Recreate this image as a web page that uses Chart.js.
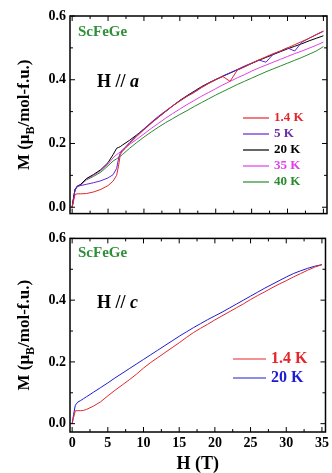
<!DOCTYPE html>
<html>
<head>
<meta charset="utf-8">
<script src="https://cdn.jsdelivr.net/npm/chart.js@4/dist/chart.umd.min.js"></script>
<style>
  body { margin: 0; background: #fff; }
  #wrap { position: relative; width: 332px; height: 473px; }
  canvas { position: absolute; left: 0; }
</style>
</head>
<body>
<div id="wrap">
  <canvas id="chart-a" width="332" height="226" style="top:0"></canvas>
  <canvas id="chart-c" width="332" height="247" style="top:226px"></canvas>
</div>
<script>
// field values (T), H // a
const fieldA = [0, 0.2, 0.4, 0.7, 1.2, 2, 3, 4, 5, 5.7, 6.2, 6.5, 6.7, 7,
  8, 9, 10, 11, 12, 13, 14, 15, 16, 17, 18, 19, 20, 21, 22, 23, 24, 25, 26, 27, 28, 29, 30, 31, 32, 33, 34, 35];
const mA_1p4K = [0, 0.02, 0.04, 0.042, 0.042, 0.043, 0.048, 0.056, 0.068, 0.082, 0.1, 0.135, 0.165, 0.175,
  0.2, 0.222, 0.243, 0.263, 0.282, 0.3, 0.318, 0.333, 0.348, 0.36, 0.375, 0.388, 0.4, 0.41, 0.395, 0.43, 0.44, 0.452, 0.462, 0.472, 0.482, 0.49, 0.5, 0.51, 0.52, 0.53, 0.542, 0.553];
const mA_5K = [0, 0.025, 0.055, 0.066, 0.068, 0.072, 0.077, 0.083, 0.092, 0.102, 0.122, 0.157, 0.17, 0.178,
  0.203, 0.225, 0.246, 0.266, 0.285, 0.302, 0.318, 0.334, 0.348, 0.362, 0.376, 0.389, 0.4, 0.412, 0.422, 0.432, 0.443, 0.452, 0.462, 0.455, 0.48, 0.49, 0.5, 0.49, 0.518, 0.53, 0.541, 0.552];
const mA_20K = [0, 0.03, 0.055, 0.066, 0.072, 0.09, 0.103, 0.118, 0.14, 0.165, 0.185, 0.188, 0.19, 0.195,
  0.21, 0.227, 0.245, 0.264, 0.282, 0.3, 0.318, 0.335, 0.35, 0.364, 0.378, 0.39, 0.401, 0.411, 0.421, 0.431, 0.441, 0.451, 0.461, 0.47, 0.479, 0.488, 0.497, 0.505, 0.513, 0.522, 0.53, 0.538];
const mA_35K = [0, 0.03, 0.055, 0.064, 0.07, 0.088, 0.1, 0.115, 0.135, 0.155, 0.165, 0.17, 0.174, 0.18,
  0.197, 0.213, 0.23, 0.247, 0.263, 0.279, 0.294, 0.308, 0.322, 0.335, 0.348, 0.36, 0.372, 0.384, 0.395, 0.406, 0.416, 0.427, 0.437, 0.446, 0.455, 0.464, 0.473, 0.482, 0.49, 0.499, 0.508, 0.518];
const mA_40K = [0, 0.03, 0.055, 0.064, 0.07, 0.086, 0.097, 0.11, 0.13, 0.145, 0.152, 0.157, 0.16, 0.165,
  0.185, 0.203, 0.22, 0.236, 0.251, 0.265, 0.278, 0.291, 0.303, 0.316, 0.328, 0.34, 0.352, 0.363, 0.374, 0.385, 0.395, 0.405, 0.415, 0.425, 0.434, 0.443, 0.452, 0.461, 0.47, 0.48, 0.49, 0.504];

// field values (T), H // c
const fieldC = [0, 0.2, 0.45, 0.8, 1.2, 1.6, 2, 3,
  4, 5, 6, 7, 8, 9, 10, 11, 12, 13, 14, 15, 16, 17, 18, 19, 20, 21, 22, 23, 24, 25, 26, 27, 28, 29, 30, 31, 32, 33, 34, 35];
const mC_1p4K = [0, 0.02, 0.042, 0.042, 0.042, 0.043, 0.046, 0.057,
  0.071, 0.09, 0.108, 0.125, 0.142, 0.16, 0.18, 0.198, 0.214, 0.23, 0.246, 0.262, 0.279, 0.295, 0.309, 0.322, 0.336, 0.349, 0.362, 0.375, 0.388, 0.402, 0.415, 0.427, 0.44, 0.452, 0.463, 0.475, 0.486, 0.497, 0.507, 0.515];
const mC_20K = [0, 0.03, 0.06, 0.07, 0.075, 0.081, 0.087, 0.102,
  0.117, 0.132, 0.148, 0.163, 0.178, 0.193, 0.208, 0.223, 0.238, 0.253, 0.268, 0.283, 0.297, 0.311, 0.324, 0.337, 0.349, 0.361, 0.374, 0.387, 0.4, 0.413, 0.426, 0.439, 0.451, 0.463, 0.475, 0.486, 0.495, 0.503, 0.51, 0.515];

const xTicks = [0, 5, 10, 15, 20, 25, 30, 35];
const xMinor = [2.5, 7.5, 12.5, 17.5, 22.5, 27.5, 32.5];
const yTicks = [0, 0.2, 0.4, 0.6];
const yMinor = [0.1, 0.3, 0.5];

const serif = '"Liberation Serif", "Times New Roman", serif';

function pts(xs, ys) {
  return xs.map((x, i) => ({ x: x, y: ys[i] }));
}

function line(label, xs, ys, color) {
  return { label: label, data: pts(xs, ys), borderColor: color, borderWidth: 1,
           pointRadius: 0, tension: 0, fill: false };
}

// frame, inward ticks, labels and legend drawn on the chart
function panelPlugin(cfg) {
  return {
    id: 'panel',
    afterDraw(chart) {
      const ctx = chart.ctx, a = chart.chartArea;
      const xs = chart.scales.x, ys = chart.scales.y;
      ctx.save();
      ctx.strokeStyle = '#000';
      ctx.lineWidth = 1;
      ctx.beginPath();
      xTicks.forEach(v => {
        const p = xs.getPixelForValue(v);
        ctx.moveTo(p, a.bottom); ctx.lineTo(p, a.bottom - 5);
        ctx.moveTo(p, a.top); ctx.lineTo(p, a.top + 5);
      });
      xMinor.forEach(v => {
        const p = xs.getPixelForValue(v);
        ctx.moveTo(p, a.bottom); ctx.lineTo(p, a.bottom - 3);
        ctx.moveTo(p, a.top); ctx.lineTo(p, a.top + 3);
      });
      yTicks.forEach(v => {
        const p = ys.getPixelForValue(v);
        ctx.moveTo(a.left, p); ctx.lineTo(a.left + 5, p);
        ctx.moveTo(a.right, p); ctx.lineTo(a.right - 5, p);
      });
      yMinor.forEach(v => {
        const p = ys.getPixelForValue(v);
        ctx.moveTo(a.left, p); ctx.lineTo(a.left + 3, p);
        ctx.moveTo(a.right, p); ctx.lineTo(a.right - 3, p);
      });
      ctx.stroke();
      ctx.lineWidth = 1.5;
      ctx.strokeRect(a.left, a.top, a.right - a.left, a.bottom - a.top);

      // sample name
      ctx.textBaseline = 'middle';
      ctx.textAlign = 'left';
      ctx.fillStyle = '#2f8f3a';
      ctx.font = 'bold 15px ' + serif;
      ctx.fillText('ScFeGe', a.left + 8, a.top + cfg.nameDy);

      // H // a
      ctx.fillStyle = '#000';
      ctx.font = 'bold 18px ' + serif;
      let x = a.left + 27, y = a.top + cfg.dirDy;
      ctx.fillText('H // ', x, y);
      x += ctx.measureText('H // ').width;
      ctx.font = 'italic bold 18px ' + serif;
      ctx.fillText(cfg.dir, x, y);

      // legend
      ctx.font = 'bold ' + cfg.legFont + 'px ' + serif;
      chart.data.datasets.forEach((ds, i) => {
        const ly = cfg.legY + i * cfg.legStep;
        ctx.strokeStyle = ds.borderColor;
        ctx.lineWidth = 1.2;
        ctx.beginPath();
        ctx.moveTo(cfg.legX0, ly); ctx.lineTo(cfg.legX1, ly);
        ctx.stroke();
        ctx.fillStyle = cfg.labelColors[i];
        ctx.fillText(ds.label, cfg.legX1 + 5, ly);
      });

      // y title with subscript
      ctx.fillStyle = '#000';
      ctx.translate(25, (a.top + a.bottom) / 2);
      ctx.rotate(-Math.PI / 2);
      const big = 'bold 17px ' + serif, small = 'bold 12px ' + serif;
      const parts = [['M (\u03bc', big, 0], ['B', small, 6], ['/mol-f.u.)', big, 0]];
      let w = 0;
      parts.forEach(p => { ctx.font = p[1]; w += ctx.measureText(p[0]).width; });
      let px = -w / 2;
      parts.forEach(p => {
        ctx.font = p[1];
        ctx.fillText(p[0], px, p[2]);
        px += ctx.measureText(p[0]).width;
      });
      ctx.restore();
    }
  };
}

function yScale(min) {
  return {
    type: 'linear', min: min, max: 0.6,
    afterBuildTicks: s => { s.ticks = yTicks.map(v => ({ value: v })); },
    afterFit: s => { s.width = 70; },
    grid: { display: false, drawTicks: false },
    border: { display: false },
    ticks: { padding: 4, color: '#000', font: { family: serif, size: 14, weight: 'bold' },
             callback: v => v.toFixed(1) }
  };
}

new Chart(document.getElementById('chart-a'), {
  type: 'line',
  data: {
    datasets: [
      line('1.4 K', fieldA, mA_1p4K, '#e3262c'),
      line('5 K', fieldA, mA_5K, '#6424d8'),
      line('20 K', fieldA, mA_20K, '#000000'),
      line('35 K', fieldA, mA_35K, '#e040e6'),
      line('40 K', fieldA, mA_40K, '#2a8a2e')
    ]
  },
  options: {
    responsive: false, animation: false,
    layout: { padding: { left: 0, right: 5, top: 16, bottom: 4 } },
    plugins: { legend: { display: false }, tooltip: { enabled: false } },
    scales: {
      x: { type: 'linear', min: -0.3, max: 35.5, display: false },
      y: yScale(-0.02)
    }
  },
  plugins: [panelPlugin({ dir: 'a', nameDy: 16, dirDy: 66,
    legX0: 243, legX1: 269, legY: 118, legStep: 16, legFont: 13,
    labelColors: ['#e3262c', '#6a2ea8', '#000000', '#e040e6', '#2a8a2e'] })]
});

new Chart(document.getElementById('chart-c'), {
  type: 'line',
  data: {
    datasets: [
      line('1.4 K', fieldC, mC_1p4K, '#e3262c'),
      line('20 K', fieldC, mC_20K, '#1c1cd0')
    ]
  },
  options: {
    responsive: false, animation: false,
    layout: { padding: { left: 0, right: 5, top: 1, bottom: 0 } },
    plugins: { legend: { display: false }, tooltip: { enabled: false } },
    scales: {
      x: {
        type: 'linear', min: -0.3, max: 35.5,
        afterBuildTicks: s => { s.ticks = xTicks.map(v => ({ value: v })); },
        afterFit: s => { s.height = 41; },
        grid: { display: false, drawTicks: false },
        border: { display: false },
        ticks: { padding: 3, maxRotation: 0, autoSkip: false, color: '#000',
                 font: { family: serif, size: 14, weight: 'bold' } },
        title: { display: true, text: 'H (T)', color: '#000', padding: 0,
                 font: { family: serif, size: 18, weight: 'bold', lineHeight: 1 } }
      },
      y: yScale(-0.027)
    }
  },
  plugins: [panelPlugin({ dir: 'c', nameDy: 15, dirDy: 65,
    legX0: 233, legX1: 266, legY: 133, legStep: 19, legFont: 16,
    labelColors: ['#e3262c', '#1c1cd0'] })]
});
</script>
</body>
</html>
